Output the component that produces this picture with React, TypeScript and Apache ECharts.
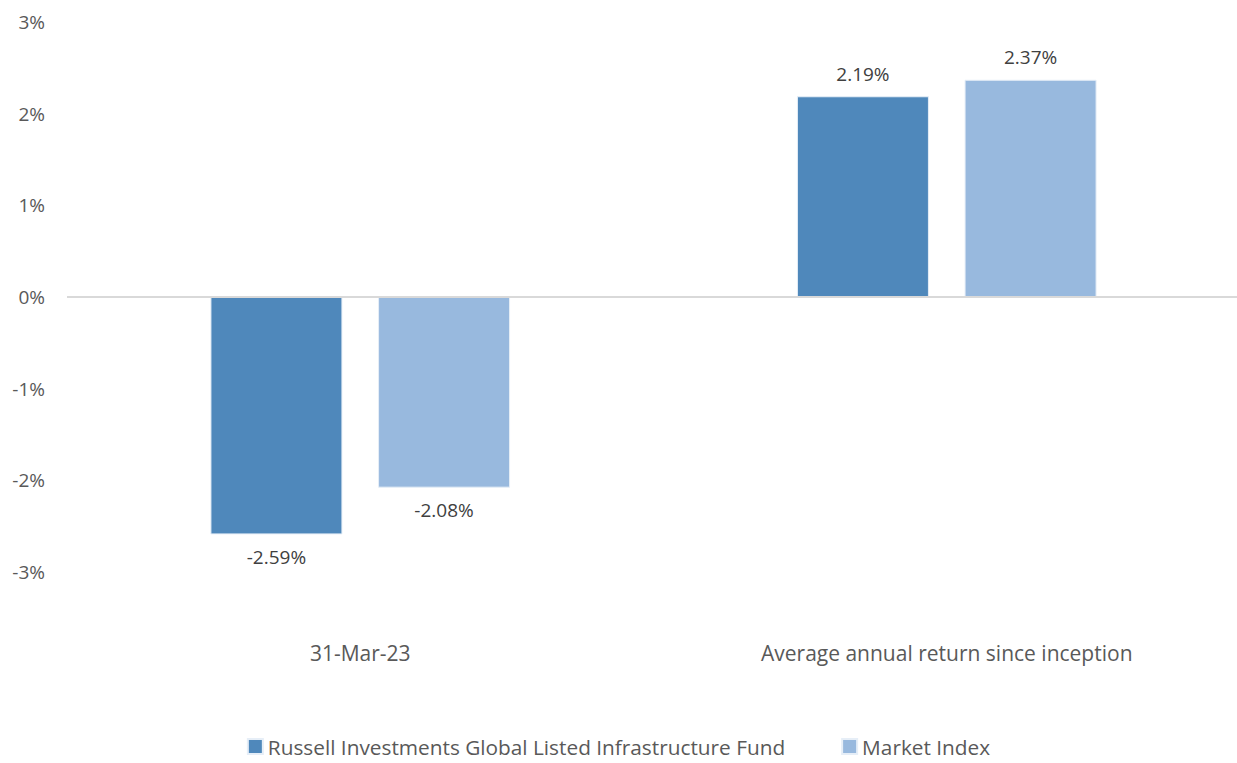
import React, { useEffect, useRef } from "react";
import * as echarts from "echarts";

const categories = ["31-Mar-23", "Average annual return since inception"];
const fundValues = [-2.59, 2.19];
const indexValues = [-2.08, 2.37];
const seriesNames = ["Russell Investments Global Listed Infrastructure Fund", "Market Index"];

const FONT = "'Open Sans', 'Noto Sans', sans-serif";

export default function App() {
  const ref = useRef<HTMLDivElement>(null);
  useEffect(() => {
    const chart = echarts.init(ref.current!, null, { renderer: "svg" });
    const label = (pos: "top" | "bottom") => ({
      show: true,
      position: pos,
      distance: 13,
      color: "#404040",
      fontFamily: FONT,
      fontSize: 19,
      formatter: (p: any) => p.value.toFixed(2) + "%",
    });
    chart.setOption({
      animation: false,
      backgroundColor: "#ffffff",
      grid: {
        left: 67,
        right: -3,
        top: 22,
        bottom: 191,
        containLabel: false,
        outerBoundsMode: "none",
      },
      legend: {
        bottom: 1,
        left: "center",
        itemWidth: 15,
        itemHeight: 15,
        itemGap: 56,
        icon: "rect",
        textStyle: { color: "#595959", fontFamily: FONT, fontSize: 20.8 },
        data: seriesNames,
      },
      xAxis: {
        type: "category",
        data: categories,
        axisLine: { show: false, onZero: false },
        axisTick: { show: false },
        axisLabel: { color: "#595959", fontFamily: FONT, fontSize: 21, margin: 70 },
      },
      yAxis: {
        type: "value",
        min: -3,
        max: 3,
        interval: 1,
        splitLine: { show: false },
        axisLine: { show: false },
        axisTick: { show: false },
        axisLabel: {
          color: "#595959",
          fontFamily: FONT,
          fontSize: 19,
          margin: 22,
          formatter: (v: number) => v + "%",
        },
      },
      series: [
        {
          name: seriesNames[0],
          type: "bar",
          data: fundValues.map((v) => ({ value: v, label: label(v < 0 ? "bottom" : "top") })),
          barWidth: 132,
          barGap: "27%",
          itemStyle: { color: "#4F88BB", borderColor: "#E6EEF7", borderWidth: 1 },
          markLine: {
            silent: true,
            symbol: "none",
            label: { show: false },
            lineStyle: { color: "#D9D9D9", width: 2, type: "solid" },
            data: [{ yAxis: 0 }],
          },
        },
        {
          name: seriesNames[1],
          type: "bar",
          data: indexValues.map((v) => ({ value: v, label: label(v < 0 ? "bottom" : "top") })),
          barWidth: 132,
          itemStyle: { color: "#98B9DE", borderColor: "#E6EEF7", borderWidth: 1 },
        },
      ],
    });
    return () => chart.dispose();
  }, []);
  return (
    <div
      ref={ref}
      style={{ position: "fixed", left: 0, top: 0, width: 1237, height: 763 }}
    />
  );
}
